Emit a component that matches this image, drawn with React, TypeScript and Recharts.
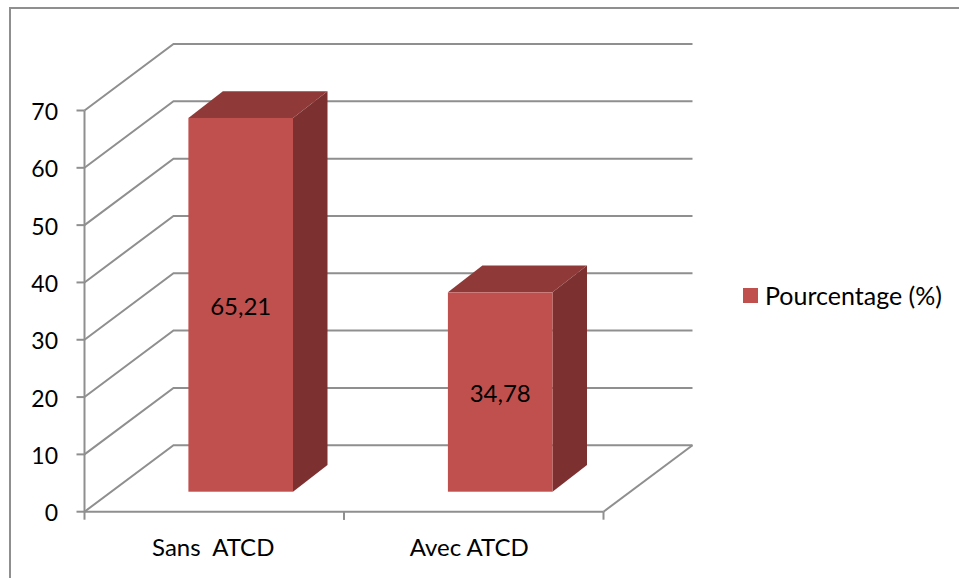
import React from "react";
import { BarChart, Bar, XAxis, YAxis, CartesianGrid, Legend, LabelList } from "recharts";

const categories = ["Sans  ATCD", "Avec ATCD"];
const percentages = [65.21, 34.78];
const yTicks = [0, 10, 20, 30, 40, 50, 60, 70];
const seriesName = "Pourcentage (%)";

const rows = categories.map((name, i) => ({ name, value: percentages[i] }));

const GRAY = "#8f8f8f";
const FONT = "Lato, Carlito, sans-serif";
const FRONT = "#c0504d";
const TOP = "#8f3a38";
const SIDE = "#7c3130";
const LINE = 2;
const WALL_DX = 89;
const WALL_DY = -66.5;
const BAR_DX = 26.9;
const BAR_DY = -20;
const DEPTH_X = 34.5;
const DEPTH_Y = -26.8;

const gridLine = (p: any) => {
  const { x1, x2, y1, index } = p;
  const isFloor = y1 > 500;
  return (
    <g key={`g-${index}`} fill="none" stroke={GRAY} strokeWidth={LINE}>
      <polyline points={`${x1},${y1} ${x1 + WALL_DX},${y1 + WALL_DY} ${x2 + WALL_DX},${y1 + WALL_DY}`} />
      {isFloor && <line x1={x2} y1={y1} x2={x2 + WALL_DX} y2={y1 + WALL_DY} />}
    </g>
  );
};

const box3d = (p: any) => {
  const x = p.x + BAR_DX;
  const y = p.y + BAR_DY;
  const w = p.width;
  const h = p.height;
  return (
    <g>
      <polygon fill={SIDE} points={`${x + w},${y} ${x + w + DEPTH_X},${y + DEPTH_Y} ${x + w + DEPTH_X},${y + h + DEPTH_Y} ${x + w},${y + h}`} />
      <polygon fill={TOP} points={`${x},${y} ${x + DEPTH_X},${y + DEPTH_Y} ${x + w + DEPTH_X},${y + DEPTH_Y} ${x + w},${y}`} />
      <rect x={x} y={y} width={w} height={h} fill={FRONT} />
    </g>
  );
};

const barLabel = (p: any) => (
  <text
    x={p.x + BAR_DX + p.width / 2}
    y={p.y + BAR_DY + p.height / 2}
    dy={0.5}
    textAnchor="middle"
    dominantBaseline="central"
    fontFamily={FONT}
    fontSize={24}
    fill="#000"
  >
    {String(p.value).replace(".", ",")}
  </text>
);

const yTick = (p: any) => (
  <text x={58} y={p.y} dy={0.5} textAnchor="end" dominantBaseline="central" fontFamily={FONT} fontSize={23} fill="#000">
    {p.payload.value}
  </text>
);

const xTick = (p: any) => {
  const half = p.payload.offset ?? 129.75;
  const top = 511.7;
  const nudge = p.index === 1 ? -4.5 : -1;
  return (
    <g>
      <line x1={p.x - half} x2={p.x - half} y1={top} y2={top + 8} stroke={GRAY} strokeWidth={LINE} />
      <line x1={p.x + half} x2={p.x + half} y1={top} y2={top + 8} stroke={GRAY} strokeWidth={LINE} />
      <text x={p.x + nudge} y={546} textAnchor="middle" dominantBaseline="central" fontFamily={FONT} fontSize={24} fill="#000" style={{ whiteSpace: "pre" }}>
        {p.payload.value}
      </text>
    </g>
  );
};

const legendContent = (p: any) => (
  <div style={{ display: "flex", alignItems: "center", fontFamily: FONT, fontSize: 25, color: "#000", whiteSpace: "nowrap" }}>
    {(p.payload || []).map((e: any) => (
      <React.Fragment key={e.value}>
        <span style={{ display: "inline-block", width: 15, height: 15, background: e.color, marginRight: 7 }} />
        <span>{e.value}</span>
      </React.Fragment>
    ))}
  </div>
);

export default function App() {
  return (
    <div style={{ position: "absolute", left: 0, top: 0, width: 959, height: 578, background: "#fff", overflow: "hidden" }}>
      <div style={{ position: "absolute", left: 9, top: 7, right: 0, bottom: 0, borderTop: `2px solid ${GRAY}`, borderLeft: `2px solid ${GRAY}` }} />
      <div style={{ position: "absolute", left: 0, top: 0 }}>
        <BarChart
          width={959}
          height={578}
          data={rows}
          barSize={104.6}
          margin={{ left: 24.5, top: 110.5, right: 140.5, bottom: 26.3 }}
        >
          <CartesianGrid vertical={false} horizontal={gridLine as any} />
          <XAxis
            dataKey="name"
            height={40}
            axisLine={{ stroke: GRAY, strokeWidth: LINE }}
            tickLine={false}
            tick={xTick as any}
            interval={0}
          />
          <YAxis
            width={60}
            domain={[0, 70]}
            ticks={yTicks}
            tickSize={8}
            axisLine={{ stroke: GRAY, strokeWidth: LINE }}
            tickLine={{ stroke: GRAY, strokeWidth: LINE }}
            tick={yTick as any}
          />
          <Legend
            layout="vertical"
            align="right"
            verticalAlign="middle"
            width={215}
            content={legendContent as any}
            wrapperStyle={{ left: 743, top: 280, width: 215 }}
          />
          <Bar dataKey="value" name={seriesName} fill={FRONT} shape={box3d as any} isAnimationActive={false}>
            <LabelList dataKey="value" content={barLabel as any} />
          </Bar>
        </BarChart>
      </div>
    </div>
  );
}
